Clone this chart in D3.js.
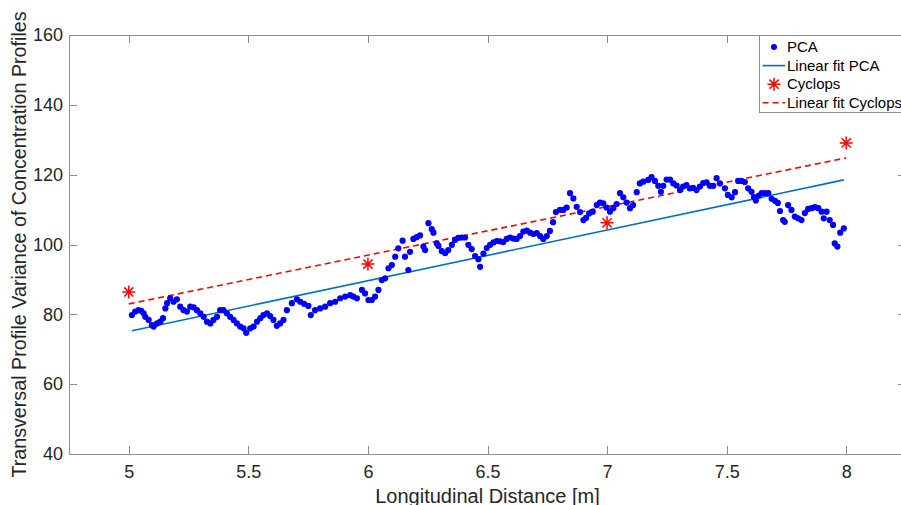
<!DOCTYPE html>
<html>
<head>
<meta charset="utf-8">
<script src="https://cdn.jsdelivr.net/npm/d3@7"></script>
<style>
  html, body { margin: 0; padding: 0; background: #fff; }
  svg { display: block; font-family: "Liberation Sans", Arial, sans-serif; }
  .axis path, .axis line { stroke: #8f8f8f; shape-rendering: crispEdges; }
  .axis text { fill: #262626; font-size: 18px; }
</style>
</head>
<body>
<div id="chart"></div>
<script>
// PCA profile variance
const pcaDist = [5.013,5.027,5.041,5.052,5.062,5.069,5.083,5.097,5.104,5.118,5.132,5.143,5.153,5.160,5.173,5.187,5.201,5.215,5.229,5.243,
  5.257,5.271,5.285,5.299,5.313,5.327,5.341,5.354,5.369,5.382,5.396,5.410,5.424,5.438,5.452,5.466,5.480,5.491,5.508,5.522,
  5.536,5.550,5.563,5.578,5.591,5.605,5.619,5.633,5.647,5.661,5.682,5.703,5.717,5.733,5.751,5.761,5.779,5.800,5.821,5.842,
  5.863,5.884,5.905,5.926,5.939,5.954,5.975,5.988,6.002,6.016,6.030,6.044,6.058,6.072,6.086,6.100,6.114,6.127,6.145,6.155,
  6.169,6.176,6.190,6.204,6.218,6.232,6.239,6.253,6.267,6.274,6.288,6.295,6.309,6.323,6.336,6.351,6.364,6.378,6.392,6.406,
  6.420,6.434,6.448,6.462,6.469,6.483,6.497,6.511,6.525,6.539,6.553,6.566,6.580,6.594,6.608,6.622,6.636,6.650,6.664,6.678,
  6.692,6.706,6.720,6.733,6.748,6.761,6.774,6.786,6.803,6.817,6.831,6.845,6.859,6.873,6.887,6.901,6.912,6.925,6.940,6.957,
  6.970,6.984,6.998,7.012,7.026,7.040,7.054,7.068,7.082,7.096,7.109,7.124,7.137,7.151,7.172,7.186,7.200,7.214,7.225,7.235,
  7.249,7.263,7.277,7.291,7.305,7.318,7.332,7.346,7.360,7.374,7.388,7.402,7.416,7.430,7.444,7.458,7.472,7.493,7.505,7.521,
  7.535,7.548,7.562,7.576,7.590,7.604,7.614,7.622,7.635,7.647,7.660,7.674,7.688,7.702,7.714,7.723,7.736,7.743,7.757,7.771,
  7.785,7.799,7.813,7.827,7.841,7.855,7.869,7.883,7.897,7.906,7.918,7.931,7.945,7.952,7.963,7.975,7.990];
const pcaVar = [79.8,80.8,81.2,81.0,80.3,79.3,78.4,76.9,76.5,77.4,77.9,78.9,81.7,83.2,84.6,83.6,84.3,82.2,81.2,80.8,
  82.2,82.0,81.2,80.3,79.3,77.9,77.4,78.4,79.3,81.2,81.2,80.3,79.3,78.4,77.4,76.5,76.0,74.7,76.0,76.5,
  77.9,78.9,79.8,80.3,79.5,78.4,76.7,77.4,78.4,81.2,83.2,84.3,83.6,83.0,82.4,79.8,81.2,81.7,82.2,83.2,
  83.6,84.6,85.1,85.5,85.1,84.6,87.0,86.0,84.1,84.1,85.1,87.0,89.8,90.3,93.2,94.1,96.5,98.9,101.1,96.5,
  92.7,97.9,101.6,102.1,102.6,99.4,98.4,106.1,104.4,103.4,100.3,99.6,98.1,97.5,98.4,99.9,101.3,101.9,102.0,102.0,
  99.9,98.7,96.7,95.8,93.6,97.4,99.0,99.9,100.6,101.0,100.9,100.7,101.6,102.0,101.7,101.6,102.4,103.7,104.0,103.4,
  103.0,103.3,102.4,101.6,102.4,103.9,106.4,109.3,109.9,109.9,110.6,114.7,113.2,110.8,109.3,107.0,107.6,108.9,109.4,111.3,
  112.0,111.8,110.6,109.4,110.4,111.6,114.7,113.5,112.0,110.4,111.3,115.0,117.5,118.0,118.5,119.3,118.2,116.8,115.1,116.8,
  118.6,118.6,117.5,116.9,115.6,116.6,117.0,116.1,116.2,115.6,116.6,117.6,117.8,116.8,116.8,119.0,117.5,116.1,114.2,113.5,
  115.0,118.2,118.2,117.9,116.1,115.1,113.6,112.6,114.0,114.7,114.7,114.7,113.1,112.5,111.9,109.6,107.0,106.5,111.3,109.9,
  108.0,107.5,107.0,109.0,110.2,110.4,110.7,110.4,109.4,107.5,109.4,107.0,105.6,100.3,99.4,103.4,104.6];

// Cyclops measurements
const cyclopsDist = [5, 6, 7, 8];
const cyclopsVar = [86.4, 94.4, 106.2, 129.1];

// fitted lines (end points)
const fitPcaDist = [5.013, 7.99];
const fitPcaVar = [75.3, 118.5];
const fitCycDist = [5, 8];
const fitCycVar = [83.0, 124.8];

const xTicks = [5, 5.5, 6, 6.5, 7, 7.5, 8];
const yTicks = [40, 60, 80, 100, 120, 140, 160];
const legendLabels = ["PCA", "Linear fit PCA", "Cyclops", "Linear fit Cyclops"];

window.onload = () => { createGraph(); };

function starPath(r) {
    const d = r * Math.SQRT1_2;
    return `M${-r},0L${r},0M0,${-r}L0,${r}M${-d},${-d}L${d},${d}M${-d},${d}L${d},${-d}`;
}

function createGraph() {
    const W = 901, H = 505;
    const left = 69, top = 35, right = 906, bottom = 454;
    const tick = 7.7;

    const svg = d3.select('#chart').append('svg')
        .attr('width', W).attr('height', H);

    const xScale = d3.scaleLinear().domain([4.75, 8.25]).range([left, right]);
    const yScale = d3.scaleLinear().domain([40, 160]).range([bottom, top]);

    // axes (ticks pointing inward, like matlab)
    svg.append('g').attr('class', 'axis')
        .attr('transform', 'translate(0,' + bottom + ')')
        .call(d3.axisBottom(xScale).tickValues(xTicks).tickFormat(d3.format('')).tickSize(-tick).tickSizeOuter(0).tickPadding(11));
    svg.append('g').attr('class', 'axis')
        .attr('transform', 'translate(0,' + top + ')')
        .call(d3.axisTop(xScale).tickValues(xTicks).tickFormat('').tickSize(-tick).tickSizeOuter(0));
    svg.append('g').attr('class', 'axis')
        .attr('transform', 'translate(' + left + ',0)')
        .call(d3.axisLeft(yScale).tickValues(yTicks).tickSize(-tick).tickSizeOuter(0).tickPadding(6));
    svg.append('g').attr('class', 'axis')
        .attr('transform', 'translate(' + right + ',0)')
        .call(d3.axisRight(yScale).tickValues(yTicks).tickFormat('').tickSize(-tick).tickSizeOuter(0));

    const line = d3.line().x(d => xScale(d[0])).y(d => yScale(d[1]));

    // linear fit PCA
    svg.append('path')
        .datum(d3.zip(fitPcaDist, fitPcaVar))
        .attr('fill', 'none')
        .attr('stroke', '#0072BD')
        .attr('stroke-width', 1.6)
        .attr('d', line);

    // linear fit Cyclops
    svg.append('path')
        .datum(d3.zip(fitCycDist, fitCycVar))
        .attr('fill', 'none')
        .attr('stroke', '#ff0000')
        .attr('stroke-width', 1.6)
        .attr('stroke-dasharray', '6,4')
        .attr('d', line);

    // PCA dots
    svg.append('g').selectAll('circle')
        .data(d3.zip(pcaDist, pcaVar))
        .join('circle')
        .attr('cx', d => xScale(d[0]))
        .attr('cy', d => yScale(d[1]))
        .attr('r', 3.1)
        .attr('fill', '#0000ff');

    // Cyclops stars
    svg.append('g').selectAll('path')
        .data(d3.zip(cyclopsDist, cyclopsVar))
        .join('path')
        .attr('transform', d => 'translate(' + xScale(d[0]) + ',' + yScale(d[1]) + ')')
        .attr('d', starPath(6.5))
        .attr('fill', 'none')
        .attr('stroke', '#ff0000')
        .attr('stroke-width', 1.5);

    // axis titles
    svg.append('text')
        .attr('x', (left + right) / 2).attr('y', 502.5)
        .attr('text-anchor', 'middle')
        .attr('font-size', 20).attr('fill', '#262626')
        .text('Longitudinal Distance [m]');
    svg.append('text')
        .attr('transform', 'translate(26,' + (top + bottom) / 2 + ') rotate(-90)')
        .attr('text-anchor', 'middle')
        .attr('font-size', 19.7).attr('fill', '#262626')
        .text('Transversal Profile Variance of Concentration Profiles');

    // legend
    const lg = svg.append('g').attr('transform', 'translate(759.5,35.5)');
    lg.append('rect')
        .attr('width', 150).attr('height', 77)
        .attr('fill', '#fff').attr('stroke', '#8f8f8f');
    const rowY = i => 11.5 + i * 18.6;
    legendLabels.forEach((lab, i) => {
        const row = lg.append('g').attr('transform', 'translate(0,' + rowY(i) + ')');
        if (i === 0) row.append('circle').attr('cx', 14.5).attr('r', 3).attr('fill', '#0000ff');
        if (i === 1) row.append('line').attr('x1', 3).attr('x2', 25.5).attr('stroke', '#0072BD').attr('stroke-width', 1.6);
        if (i === 2) row.append('path').attr('transform', 'translate(14.5,0)').attr('d', starPath(6.5))
            .attr('fill', 'none').attr('stroke', '#ff0000').attr('stroke-width', 1.5);
        if (i === 3) row.append('line').attr('x1', 3).attr('x2', 25.5).attr('stroke', '#ff0000')
            .attr('stroke-width', 1.6).attr('stroke-dasharray', '6,4');
        row.append('text')
            .attr('x', 27.5).attr('dy', '0.35em')
            .attr('font-size', 15).attr('fill', '#000')
            .text(lab);
    });
}
</script>
</body>
</html>
